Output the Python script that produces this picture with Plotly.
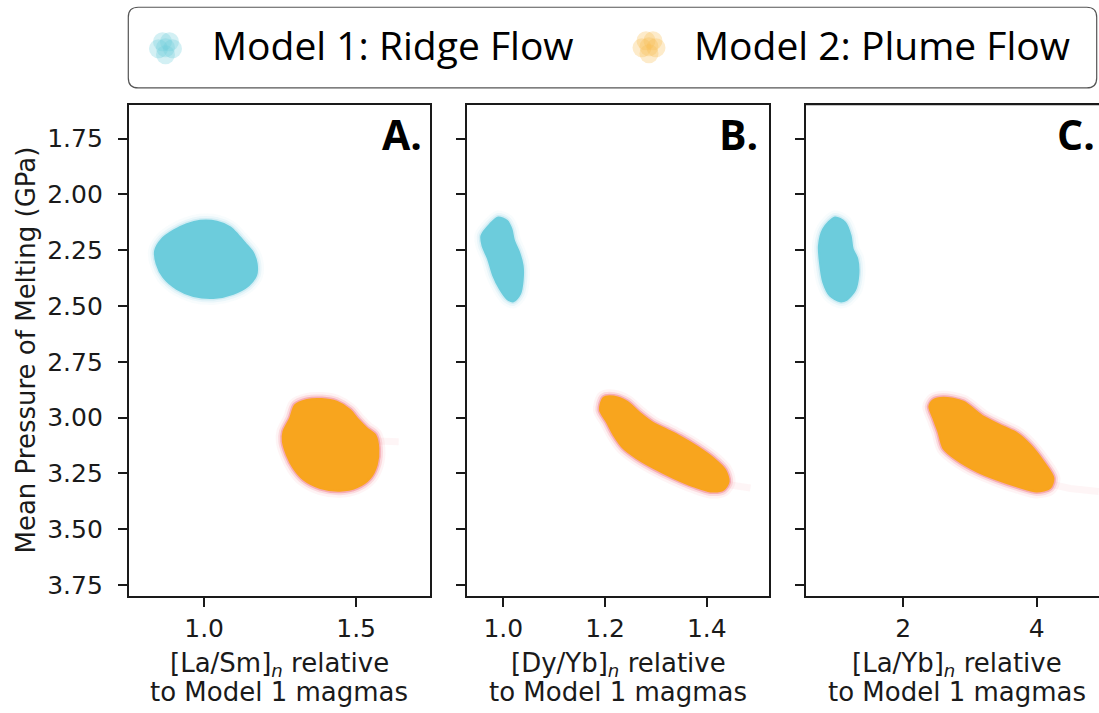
import plotly.graph_objects as go

# ---------------- data ----------------
y_tick_vals = [1.75, 2.00, 2.25, 2.50, 2.75, 3.00, 3.25, 3.50, 3.75]
y_tick_text = ["1.75", "2.00", "2.25", "2.50", "2.75", "3.00", "3.25", "3.50", "3.75"]
xa_tick_vals = [1.0, 1.5]
xa_tick_text = ["1.0", "1.5"]
xb_tick_vals = [1.0, 1.2, 1.4]
xb_tick_text = ["1.0", "1.2", "1.4"]
xc_tick_vals = [2, 4]
xc_tick_text = ["2", "4"]

panel_labels = ["A.", "B.", "C."]
x_title_line1 = ["[La/Sm]<sub><i>n</i></sub> relative",
                 "[Dy/Yb]<sub><i>n</i></sub> relative",
                 "[La/Yb]<sub><i>n</i></sub> relative"]
x_title_line2 = "to Model 1 magmas"
y_title = "Mean Pressure of Melting (GPa)"
legend_labels = ["Model 1: Ridge Flow", "Model 2: Plume Flow"]

# Outline of each point cloud (x = ratio, y = mean pressure in GPa)
ridge_a_x = [0.839, 0.861, 0.899, 0.943, 0.987, 1.042, 1.086, 1.112, 1.135, 1.160,
             1.173, 1.171, 1.146, 1.096, 1.031, 0.965, 0.910, 0.866, 0.844]
ridge_a_y = [2.252, 2.200, 2.162, 2.133, 2.118, 2.122, 2.147, 2.182, 2.218, 2.259,
             2.311, 2.363, 2.408, 2.445, 2.464, 2.455, 2.423, 2.371, 2.311]
plume_a_x = [1.259, 1.261, 1.283, 1.299, 1.338, 1.387, 1.436, 1.480, 1.508, 1.535,
             1.563, 1.573, 1.568, 1.546, 1.502, 1.447, 1.382, 1.327, 1.294, 1.272]
plume_a_y = [3.107, 3.063, 3.003, 2.944, 2.921, 2.917, 2.929, 2.966, 3.011, 3.048,
             3.078, 3.137, 3.211, 3.271, 3.313, 3.328, 3.316, 3.278, 3.226, 3.167]

ridge_b_x = [0.957, 0.974, 0.990, 1.007, 1.016, 1.021, 1.031, 1.038, 1.038, 1.033,
             1.020, 1.007, 0.993, 0.980, 0.970, 0.959]
ridge_b_y = [2.185, 2.133, 2.103, 2.118, 2.155, 2.207, 2.259, 2.319, 2.386, 2.445,
             2.479, 2.467, 2.423, 2.363, 2.289, 2.229]
plume_b_x = [1.197, 1.217, 1.243, 1.269, 1.295, 1.322, 1.348, 1.381, 1.413, 1.436,
             1.443, 1.433, 1.407, 1.374, 1.335, 1.295, 1.262, 1.236, 1.217, 1.203, 1.190]
plume_b_y = [2.911, 2.906, 2.929, 2.981, 3.025, 3.055, 3.085, 3.130, 3.182, 3.234,
             3.286, 3.323, 3.331, 3.308, 3.271, 3.226, 3.182, 3.137, 3.078, 3.018, 2.966]

ridge_c_x = [0.735, 0.800, 0.975, 1.125, 1.210, 1.240, 1.310, 1.325, 1.275, 1.150,
             1.050, 0.900, 0.800, 0.750]
ridge_c_y = [2.229, 2.155, 2.103, 2.125, 2.185, 2.244, 2.289, 2.363, 2.430, 2.472,
             2.479, 2.453, 2.393, 2.304]
plume_c_x = [2.390, 2.450, 2.600, 2.900, 3.200, 3.500, 3.700, 3.900, 4.100, 4.250,
             4.200, 4.000, 3.700, 3.400, 3.100, 2.800, 2.600, 2.525, 2.450]
plume_c_y = [2.951, 2.921, 2.911, 2.929, 2.996, 3.041, 3.070, 3.122, 3.197, 3.271,
             3.316, 3.331, 3.308, 3.278, 3.241, 3.189, 3.137, 3.063, 3.003]

# faint scattered tails of the plume clouds
tail_a_x = [1.565, 1.600, 1.640]
tail_a_y = [3.105, 3.110, 3.108]
tail_b_x = [1.440, 1.465, 1.486]
tail_b_y = [3.300, 3.310, 3.316]
tail_c_x = [4.230, 4.500, 4.750, 4.930]
tail_c_y = [3.300, 3.318, 3.326, 3.331]

# ---------------- styling ----------------
W, H = 1099, 713
CYAN = "rgb(108,204,220)"
ORANGE = "rgb(248,165,30)"
CYAN_HALO = "rgba(150,215,232,{a})"
PINK_HALO = "rgba(240,115,130,{a})"
AX = "#1a1a1a"
TICK_FONT = dict(family="DejaVu Sans", size=25, color=AX)
TITLE_FONT = dict(family="DejaVu Sans", size=26, color=AX)


def px(x):
    return x / W


def py(y):
    return 1 - y / H


fig = go.Figure()


def closed(a):
    return list(a) + [a[0]]


def add_cloud(xs, ys, fill, halo, xa, ya, alphas):
    for w, a in zip((14, 9, 5), alphas):
        fig.add_trace(go.Scatter(x=closed(xs), y=closed(ys), mode="lines",
                                 line=dict(color=halo.format(a=a), width=w, shape="spline", smoothing=0.8),
                                 xaxis=xa, yaxis=ya, hoverinfo="skip", showlegend=False))
    fig.add_trace(go.Scatter(x=closed(xs), y=closed(ys), mode="lines", fill="toself",
                             fillcolor=fill, line=dict(color=fill, width=2, shape="spline", smoothing=0.8),
                             xaxis=xa, yaxis=ya, hoverinfo="skip", showlegend=False))


def add_tail(xs, ys, xa, ya):
    fig.add_trace(go.Scatter(x=xs, y=ys, mode="lines",
                             line=dict(color="rgba(240,115,130,0.07)", width=7),
                             xaxis=xa, yaxis=ya, hoverinfo="skip", showlegend=False))


CYAN_A = (0.07, 0.14, 0.30)
PINK_A = (0.08, 0.20, 0.45)
add_tail(tail_a_x, tail_a_y, "x", "y")
add_tail(tail_b_x, tail_b_y, "x2", "y2")
add_tail(tail_c_x, tail_c_y, "x3", "y3")
add_cloud(ridge_a_x, ridge_a_y, CYAN, CYAN_HALO, "x", "y", CYAN_A)
add_cloud(plume_a_x, plume_a_y, ORANGE, PINK_HALO, "x", "y", PINK_A)
add_cloud(ridge_b_x, ridge_b_y, CYAN, CYAN_HALO, "x2", "y2", CYAN_A)
add_cloud(plume_b_x, plume_b_y, ORANGE, PINK_HALO, "x2", "y2", PINK_A)
add_cloud(ridge_c_x, ridge_c_y, CYAN, CYAN_HALO, "x3", "y3", CYAN_A)
add_cloud(plume_c_x, plume_c_y, ORANGE, PINK_HALO, "x3", "y3", PINK_A)

y_dom = [py(599), py(105)]
y_rng = [3.802, 1.597]
x_doms = [[px(128.7), px(430)], [px(466.7), px(769.3)], [px(806), 1.0]]
x_rngs = [[0.752, 1.743], [0.928, 1.523], [0.541, 4.934]]
x_ticks = [(xa_tick_vals, xa_tick_text), (xb_tick_vals, xb_tick_text), (xc_tick_vals, xc_tick_text)]

common = dict(showgrid=False, zeroline=False, showline=True, linecolor=AX, linewidth=1.6,
              ticks="outside", ticklen=9, tickwidth=1.5, tickcolor=AX, tickfont=TICK_FONT)

layout = {}
for i in range(3):
    sx = "" if i == 0 else str(i + 1)
    layout["xaxis" + sx] = dict(domain=x_doms[i], range=x_rngs[i], anchor="y" + sx,
                                tickvals=x_ticks[i][0], ticktext=x_ticks[i][1],
                                mirror=True, ticklabelstandoff=0, **common)
    layout["yaxis" + sx] = dict(domain=y_dom, range=y_rng, anchor="x" + sx,
                                tickvals=y_tick_vals, ticktext=y_tick_text,
                                showticklabels=(i == 0), mirror=(i < 2),
                                ticklabelstandoff=10, **common)

fig.update_layout(**layout)

annotations = []
# panel letters
for xr, lab in zip([424, 760, 1097], panel_labels):
    annotations.append(dict(x=px(xr), y=py(135), xref="paper", yref="paper", text=lab,
                            xanchor="right", yanchor="middle", showarrow=False,
                            font=dict(family="Open Sans", size=41, color="black", weight=700)))
# x titles
for xc, l1 in zip([279.3, 618.0, 956.6], x_title_line1):
    annotations.append(dict(x=px(xc), y=py(667), xref="paper", yref="paper", text=l1,
                            xanchor="center", yanchor="middle", showarrow=False, font=TITLE_FONT))
    annotations.append(dict(x=px(xc), y=py(695), xref="paper", yref="paper", text=x_title_line2,
                            xanchor="center", yanchor="middle", showarrow=False, font=TITLE_FONT))
# y title
annotations.append(dict(x=px(26), y=py(352), xref="paper", yref="paper", text=y_title,
                        textangle=-90, xanchor="center", yanchor="middle", showarrow=False,
                        font=TITLE_FONT))
# legend text
for xl, lab in zip([210, 691.7], legend_labels):
    annotations.append(dict(x=px(xl), y=py(45), xref="paper", yref="paper", text=lab,
                            xanchor="left", yanchor="middle", showarrow=False,
                            font=dict(family="Open Sans", size=39, color="black")))

shapes = []
# legend frame with rounded corners
L, R, T, B = 128.3, 1096.7, 7.3, 88.3
r = 10
path = (f"M {px(L + r)},{py(T)} L {px(R - r)},{py(T)} Q {px(R)},{py(T)} {px(R)},{py(T + r)} "
        f"L {px(R)},{py(B - r)} Q {px(R)},{py(B)} {px(R - r)},{py(B)} "
        f"L {px(L + r)},{py(B)} Q {px(L)},{py(B)} {px(L)},{py(B - r)} "
        f"L {px(L)},{py(T + r)} Q {px(L)},{py(T)} {px(L + r)},{py(T)} Z")
shapes.append(dict(type="path", path=path, xref="paper", yref="paper",
                   line=dict(color="#555555", width=1.2), fillcolor="rgba(255,255,255,0.8)",
                   layer="above"))
# legend marker clusters (translucent overlapping circles)
offsets = [(-7, 1), (-3, -6), (4, -6), (7, 1), (0, 7), (0, 0)]
for (cx, cy), col in zip([(165.5, 48), (649, 47)], ["rgba(108,204,220,0.30)", "rgba(250,190,80,0.30)"]):
    for dx, dy in offsets:
        shapes.append(dict(type="circle", xref="paper", yref="paper",
                           xsizemode="pixel", ysizemode="pixel",
                           xanchor=px(cx + dx), yanchor=py(cy + dy),
                           x0=-9.5, x1=9.5, y0=-9.5, y1=9.5,
                           line=dict(width=0), fillcolor=col, layer="above"))
# top frame line for the clipped third panel
shapes.append(dict(type="line", xref="paper", yref="paper", x0=px(806), x1=1.0,
                   y0=py(105), y1=py(105), line=dict(color=AX, width=1.6)))

fig.update_layout(width=W, height=H, autosize=False,
                  margin=dict(l=0, r=0, t=0, b=0, pad=0),
                  paper_bgcolor="white", plot_bgcolor="white",
                  showlegend=False, annotations=annotations, shapes=shapes)

fig.write_html("out.html", config={"displayModeBar": False})
